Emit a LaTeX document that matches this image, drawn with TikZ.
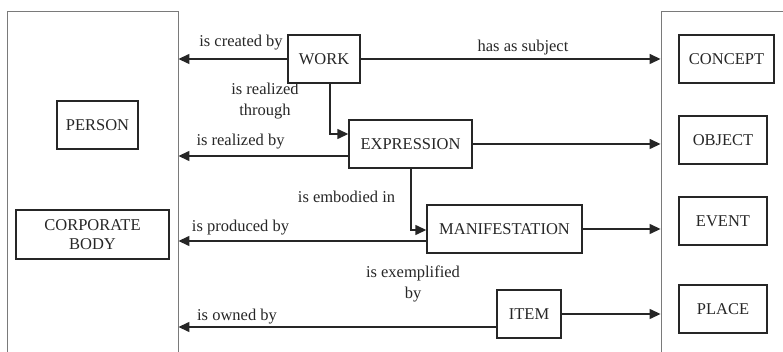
\documentclass[tikz,border=0pt]{standalone}
\usepackage{fontspec}
\setmainfont{Liberation Serif}
\usetikzlibrary{arrows.meta}
\definecolor{ink}{HTML}{262626}
\definecolor{frame}{HTML}{7A7A7A}
\tikzset{
  x=1pt, y=-1pt,
  outer/.style={draw=frame, line width=0.9pt, rectangle, inner sep=0pt},
  entity/.style={draw=ink, line width=1.4pt, rectangle, inner sep=0pt, minimum height=48pt, text=ink, font=\fontsize{16.5}{19}\selectfont, align=center},
  lbl/.style={text=ink, inner sep=0pt, font=\fontsize{16.5}{21}\selectfont, align=center},
  conn/.style={draw=ink, line width=1.4pt},
  arr/.style={conn, -{Triangle[length=11pt, width=10pt]}},
}
\begin{document}
\begin{tikzpicture}
\useasboundingbox (0,0) rectangle (783,352);
\clip (0,0) rectangle (783,352);
% outer groups
\node[outer, minimum width=171pt, minimum height=349pt] (lbox) at (92.5,185.5) {};
\node[outer, minimum width=139pt, minimum height=349pt] (rbox) at (730.5,185.5) {};
% group 2
\node[entity, minimum width=81pt] (person) at (97.5,125) {PERSON};
\node[entity, minimum width=153pt, minimum height=49pt] (corp) at (92.5,234.5) {CORPORATE\\BODY};
% group 3
\node[entity, minimum width=95pt] (concept) at (726.5,59) {CONCEPT};
\node[entity, minimum width=88pt] (object) at (723,140) {OBJECT};
\node[entity, minimum width=88pt] (event) at (723,221) {EVENT};
\node[entity, minimum width=88pt] (place) at (723,309) {PLACE};
% group 1
\node[entity, minimum width=72pt] (work) at (324,59) {WORK};
\node[entity, minimum width=123pt] (expr) at (410.5,144) {EXPRESSION};
\node[entity, minimum width=155pt] (manif) at (504.5,229) {MANIFESTATION};
\node[entity, minimum width=64pt] (item) at (529,314) {ITEM};
% connectors to the left
\draw[arr] (work.west) -- (work.west -| lbox.east);
\draw[arr] ([yshift=-12pt]expr.west) -- ([yshift=-12pt]expr.west -| lbox.east);
\draw[arr] ([yshift=-12pt]manif.west) -- ([yshift=-12pt]manif.west -| lbox.east);
\draw[arr] ([yshift=-13pt]item.west) -- ([yshift=-13pt]item.west -| lbox.east);
% connectors to the right
\draw[arr] (work.east) -- (work.east -| rbox.west);
\draw[arr] (expr.east) -- (expr.east -| rbox.west);
\draw[arr] (manif.east) -- (manif.east -| rbox.west);
\draw[arr] (item.east) -- (item.east -| rbox.west);
% hierarchy
\draw[arr] ([xshift=6pt]work.south) |- ([yshift=10pt]expr.west);
\draw[arr] ([xshift=0.5pt]expr.south) |- ([yshift=-1pt]manif.west);
% labels
\node[lbl] (l1) at (241,43) {is created by};
\node[lbl] (l2) at (523,48) {has as subject};
\node[lbl] (l3) at (265,101.5) {is realized\\through};
\node[lbl] (l4) at (240.5,142) {is realized by};
\node[lbl] (l5) at (346.5,197) {is embodied in};
\node[lbl] (l6) at (240.5,228) {is produced by};
\node[lbl] (l7) at (413,283.5) {is exemplified\\by};
\node[lbl] (l8) at (237,317) {is owned by};
\end{tikzpicture}
\end{document}
